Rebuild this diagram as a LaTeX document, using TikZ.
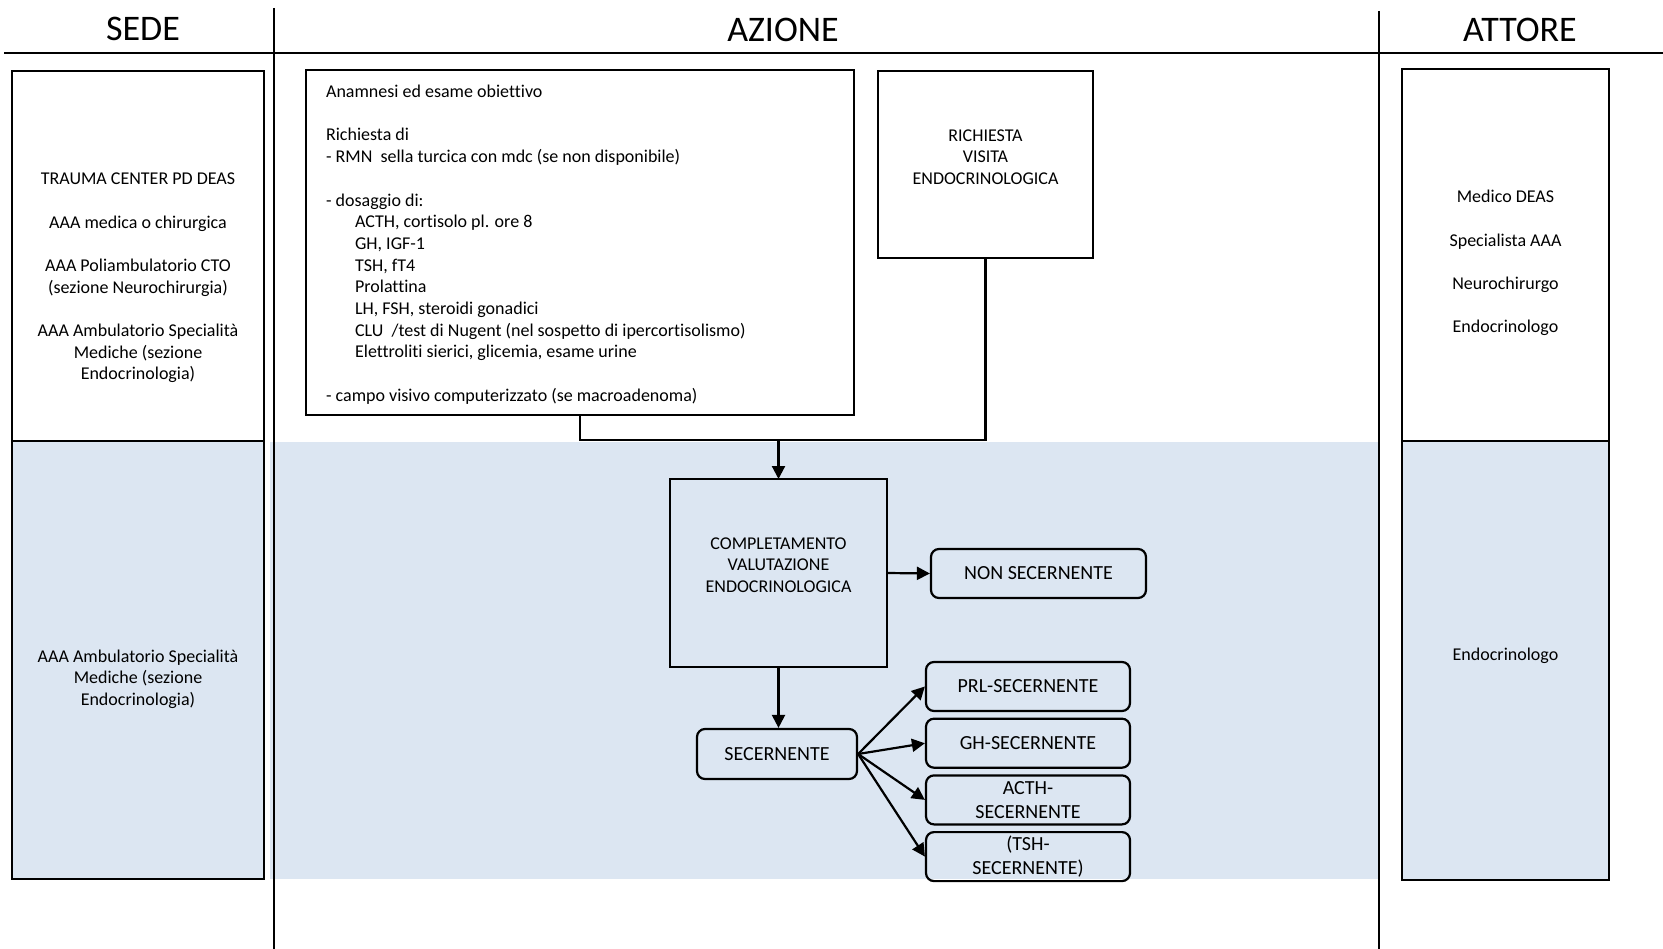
\documentclass[tikz,border=0pt]{standalone}
\usepackage{fontspec}
\setmainfont{Carlito}[Ligatures={NoCommon}]
\usetikzlibrary{arrows.meta,positioning}

\definecolor{bandblue}{HTML}{DCE6F2}

\begin{document}
\begin{tikzpicture}[x=1pt,y=-1pt,>={Triangle[length=13pt,width=13pt]},
                    line width=2.2pt,node distance=5.5pt]
    \tikzstyle{cell}=[draw,rectangle,inner sep=0pt,outer sep=0pt]
    \tikzstyle{result}=[draw,rectangle,rounded corners=8pt,inner sep=0pt,
                        minimum width=204pt,minimum height=49pt,align=center,
                        font=\fontsize{20}{24.3}\selectfont]
    \tikzstyle{txt}=[align=center,inner sep=0pt,font=\fontsize{18}{21.7}\selectfont]
    \tikzstyle{coltitle}=[inner sep=0pt,font=\fontsize{36}{42}\selectfont]

    \useasboundingbox (0,0) rectangle (1663,949);

    % lane background and rules
    \fill[bandblue] (270,442) rectangle (1379,879);
    \draw[line width=2pt] (4,53) -- (1663,53);
    \draw[line width=2pt] (274,8) -- (274,949);
    \draw[line width=2pt] (1379,11) -- (1379,949);

    \node[coltitle] (sede)   at (143,29) {SEDE};
    \node[coltitle] (azione) at (783,30) {AZIONE};
    \node[coltitle] (attore) at (1520,30) {ATTORE};

    % SEDE column
    \node[cell,minimum width=252pt,minimum height=370pt] (sedetop) at (138,256) {};
    \node[cell,fill=bandblue,minimum width=252pt,minimum height=438pt,
          below=0pt of sedetop] (sedebot) {};
    \node[txt] (sedetoptxt) at (138,278) {TRAUMA CENTER PD DEAS\\[21.7pt]
        AAA medica o chirurgica\\[21.7pt]
        AAA Poliambulatorio CTO\\(sezione Neurochirurgia)\\[21.7pt]
        AAA Ambulatorio Specialità\\Mediche (sezione\\Endocrinologia)};
    \node[txt] (sedebottxt) at (138,679) {AAA Ambulatorio Specialità\\Mediche (sezione\\Endocrinologia)};

    % ATTORE column
    \node[cell,minimum width=207pt,minimum height=372pt] (atttop) at (1505.5,255) {};
    \node[cell,fill=bandblue,minimum width=207pt,minimum height=439pt,
          below=0pt of atttop] (attbot) {};
    \node[txt] (atttoptxt) at (1505.5,263) {Medico DEAS\\[21.7pt]Specialista AAA\\[21.7pt]
        Neurochirurgo\\[21.7pt]Endocrinologo};
    \node[txt] (attbottxt) at (1505.5,656) {Endocrinologo};

    % AZIONE column
    \node[cell,minimum width=548pt,minimum height=345pt] (anam) at (580,242.5) {};
    \node[txt,align=left,anchor=north west] (anamtxt) at (325,84) {Anamnesi ed esame obiettivo\\[21.7pt]
        Richiesta di\\
        - RMN~ sella turcica con mdc (se non disponibile)\\[21.7pt]
        - dosaggio di:\\
        \hspace*{29pt}ACTH, cortisolo pl. ore 8\\
        \hspace*{29pt}GH, IGF-1\\
        \hspace*{29pt}TSH, fT4\\
        \hspace*{29pt}Prolattina\\
        \hspace*{29pt}LH, FSH, steroidi gonadici\\
        \hspace*{29pt}CLU~ /test di Nugent (nel sospetto di ipercortisolismo)\\
        \hspace*{29pt}Elettroliti sierici, glicemia, esame urine\\[21.7pt]
        - campo visivo computerizzato (se macroadenoma)};
    \node[cell,minimum width=215pt,minimum height=187pt] (req) at (985.5,164.5) {};
    \node[txt] (reqtxt) at ([yshift=7.5pt]req.center) {RICHIESTA\\VISITA\\ENDOCRINOLOGICA};

    \node[cell,minimum width=217pt,minimum height=188pt] (compl) at (778.5,573) {};
    \node[txt] (compltxt) at ([yshift=8pt]compl.center) {COMPLETAMENTO\\VALUTAZIONE\\ENDOCRINOLOGICA};

    \node[result,minimum width=215pt] (non) at (1038.5,573.5) {NON SECERNENTE};
    \node[result,minimum width=160pt,minimum height=50pt] (sec) at (777,754) {SECERNENTE};
    \node[result] (prl) at (1028,686.5) {PRL-SECERNENTE};
    \node[result] (gh)   [below=of prl]  {GH-SECERNENTE};
    \node[result] (acth) [below=of gh]   {ACTH-\\SECERNENTE};
    \node[result] (tsh)  [below=of acth] {(TSH-\\SECERNENTE)};

    \coordinate (join) at (778.5,440);
    \draw (anam.south) |- (join) -| (req.south);
    \draw[->] (join) -- (compl.north);
    \draw[->] (compl.east) -- (non.west);
    \draw[->] (compl.south) -- (compl.south |- sec.north);
    \foreach \t in {prl,gh,acth,tsh}
        \draw[->] (sec.east) -- (\t.west);
\end{tikzpicture}
\end{document}
